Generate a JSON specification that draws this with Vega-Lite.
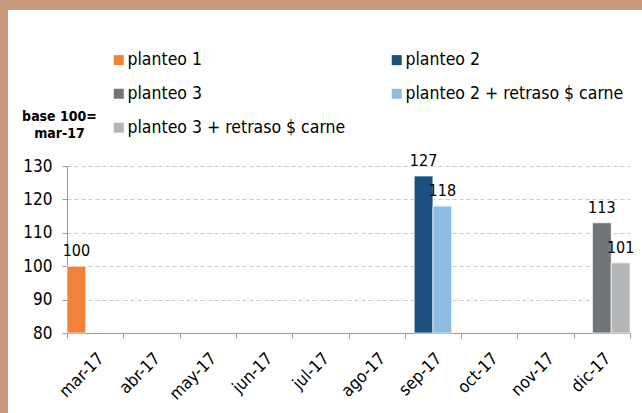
{
  "$schema": "https://vega.github.io/schema/vega-lite/v6.json",
  "background": "white",
  "padding": 0,
  "columns": 3,
  "spacing": 0,
  "bounds": "flush",
  "config": {
    "view": {"stroke": null},
    "font": "DejaVu Sans Condensed, Liberation Sans",
    "axis": {"labelFont": "DejaVu Sans Condensed, Liberation Sans", "titleFont": "DejaVu Sans Condensed, Liberation Sans"},
    "legend": {"labelFont": "DejaVu Sans Condensed, Liberation Sans"}
  },
  "concat": [
    {"width": 8, "height": 10, "view": {"fill": "#C99A7B", "stroke": null}, "data": {"values": []}, "mark": "rect", "encoding": {}},
    {"width": 59, "height": 10, "view": {"fill": "#C99A7B", "stroke": null}, "data": {"values": []}, "mark": "rect", "encoding": {}},
    {"width": 575, "height": 10, "view": {"fill": "#C99A7B", "stroke": null}, "data": {"values": []}, "mark": "rect", "encoding": {}},
    {"width": 8, "height": 156, "view": {"fill": "#C99A7B", "stroke": null}, "data": {"values": []}, "mark": "rect", "encoding": {}},
    {"width": 59, "height": 156, "data": {"values": []}, "mark": "rect", "encoding": {}},
    {"width": 575, "height": 156, "data": {"values": []}, "mark": "rect", "encoding": {}},
    {"width": 8, "height": 247, "view": {"fill": "#C99A7B", "stroke": null}, "data": {"values": []}, "mark": "rect", "encoding": {}},
    {"width": 59, "height": 247, "data": {"values": []}, "mark": "rect", "encoding": {}},
    {
      "width": 563,
      "height": 167,
      "data": {
        "values": [
          {"month": "mar-17", "series": "planteo 1", "value": 100},
          {"month": "sep-17", "series": "planteo 2", "value": 127},
          {"month": "sep-17", "series": "planteo 2 + retraso $ carne", "value": 118},
          {"month": "dic-17", "series": "planteo 3", "value": 113},
          {"month": "dic-17", "series": "planteo 3 + retraso $ carne", "value": 101}
        ]
      },
      "encoding": {
        "x": {
          "field": "month",
          "type": "nominal",
          "sort": ["mar-17", "abr-17", "may-17", "jun-17", "jul-17", "ago-17", "sep-17", "oct-17", "nov-17", "dic-17"],
          "scale": {"domain": ["mar-17", "abr-17", "may-17", "jun-17", "jul-17", "ago-17", "sep-17", "oct-17", "nov-17", "dic-17"], "paddingInner": 0, "paddingOuter": 0},
          "axis": {
            "title": null,
            "labelAngle": -45,
            "labelAlign": "right",
            "labelBaseline": "top",
            "labelFontSize": 17,
            "labelColor": "#000000",
            "labelPadding": 12,
            "tickBand": "extent",
            "tickSize": 5,
            "tickColor": "#9a9a9a",
            "domainColor": "#9a9a9a",
            "grid": false
          }
        },
        "y": {
          "field": "value",
          "type": "quantitative",
          "scale": {"domain": [80, 130], "nice": false, "zero": false},
          "axis": {
            "values": [80, 90, 100, 110, 120, 130],
            "grid": true,
            "gridDash": [4, 3],
            "gridColor": "#cccccc",
            "domainColor": "#9a9a9a",
            "tickColor": "#9a9a9a",
            "tickSize": 5,
            "labelFontSize": 17,
            "labelColor": "#000000",
            "labelPadding": 10,
            "title": ["base 100=", "mar-17"],
            "titleAngle": 0,
            "titleFontSize": 14,
            "titleFontWeight": "bold",
            "titleColor": "#000000",
            "titleAlign": "center",
            "titleBaseline": "top",
            "titleLineHeight": 17,
            "titleX": -8,
            "titleY": -57
          }
        },
        "color": {
          "field": "series",
          "type": "nominal",
          "scale": {
            "domain": ["planteo 1", "planteo 2", "planteo 3", "planteo 2 + retraso $ carne", "planteo 3 + retraso $ carne"],
            "range": ["#F2823A", "#1A4F7F", "#727577", "#8EBBE1", "#B3B5B6"]
          },
          "legend": {
            "title": null,
            "orient": "none",
            "legendX": 110,
            "legendY": 51,
            "direction": "horizontal",
            "columns": 2,
            "columnPadding": 42,
            "rowPadding": 15,
            "symbolType": "square",
            "symbolSize": 100,
            "symbolStrokeWidth": 0,
            "labelFontSize": 17.5,
            "labelColor": "#000000",
            "labelOffset": 0,
            "labelLimit": 400,
            "padding": 0
          }
        }
      },
      "layer": [
        {
          "transform": [{"filter": {"field": "series", "oneOf": ["planteo 1", "planteo 3", "planteo 3 + retraso $ carne"]}}],
          "encoding": {
            "xOffset": {
              "field": "series",
              "type": "nominal",
              "scale": {"domain": ["planteo 1", "planteo 3", "planteo 3 + retraso $ carne"], "paddingInner": 0, "paddingOuter": 0}
            }
          },
          "layer": [
            {
              "mark": {"type": "bar", "stroke": "white", "strokeWidth": 0.7},
              "encoding": {"y2": {"datum": 80}}
            },
            {
              "mark": {"type": "text", "baseline": "bottom", "dy": -7, "fontSize": 16, "color": "#000000"},
              "encoding": {"text": {"field": "value", "type": "quantitative"}, "color": {"value": "#000000"}}
            }
          ]
        },
        {
          "transform": [{"filter": {"field": "series", "oneOf": ["planteo 2", "planteo 2 + retraso $ carne"]}}],
          "encoding": {
            "xOffset": {
              "field": "series",
              "type": "nominal",
              "scale": {"domain": ["planteo 2", "planteo 2 + retraso $ carne"], "paddingInner": 0, "paddingOuter": 0.5}
            }
          },
          "layer": [
            {
              "mark": {"type": "bar", "stroke": "white", "strokeWidth": 0.7},
              "encoding": {"y2": {"datum": 80}}
            },
            {
              "mark": {"type": "text", "baseline": "bottom", "dy": -7, "fontSize": 16, "color": "#000000"},
              "encoding": {"text": {"field": "value", "type": "quantitative"}, "color": {"value": "#000000"}}
            }
          ]
        }
      ],
      "resolve": {"scale": {"xOffset": "independent"}}
    }
  ]
}
